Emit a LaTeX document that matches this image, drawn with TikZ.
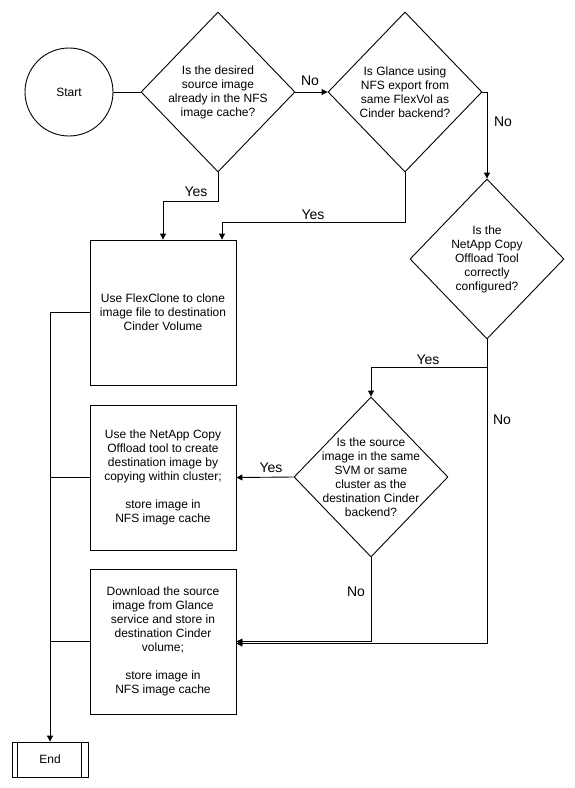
\documentclass[tikz,border=0pt]{standalone}
\usepackage{fontspec}
\setmainfont{Liberation Sans}
\usetikzlibrary{shapes.geometric,arrows.meta}
\tikzset{
  decision/.style={draw, diamond, minimum width=154pt, minimum height=160pt, inner sep=0pt},
  process/.style={draw, rectangle, minimum width=146pt, minimum height=145pt, align=center},
  ans/.style={font=\fontsize{14}{16}\selectfont},
  flow/.style={-{Triangle[length=6pt,width=6pt]}}
}
\begin{document}
\begin{tikzpicture}[x=1pt, y=-1pt, line width=0.9pt, font=\fontsize{12}{14}\selectfont]
\useasboundingbox (0,0) rectangle (575,788);
\node[draw, circle, minimum size=88pt, inner sep=0pt] (start) at (69,92) {Start};
\node[decision] (d1) at (218,92) {};
\node[align=center] (d1t) at (d1) {Is the desired\\source image\\already in the NFS\\image cache?};
\node[decision] (d2) at (405,92) {};
\node[align=center] (d2t) at (d2) {Is Glance using\\NFS export from\\same FlexVol as\\Cinder backend?};
\node[decision] (d3) at (487,259) {};
\node[align=center] (d3t) at (d3) {Is the\\NetApp Copy\\Offload Tool\\correctly\\configured?};
\node[decision] (d4) at (371,477) {};
\node[align=center] (d4t) at (d4) {Is the source\\image in the same\\SVM or same\\cluster as the\\destination Cinder\\backend?};
\node[process] (b1) at (163,312.5) {Use FlexClone to clone\\image file to destination\\Cinder Volume};
\node[process] (b2) at (163,477.5) {Use the NetApp Copy\\Offload tool to create\\destination image by\\copying within cluster;\\[14pt]store image in\\NFS image cache};
\node[process] (b3) at (163,641.5) {Download the source\\image from Glance\\service and store in\\destination Cinder\\volume;\\[14pt]store image in\\NFS image cache};
\node[draw, rectangle, minimum width=76pt, minimum height=35pt] (end) at (50,759.5) {End};
\draw ([xshift=6pt]end.north west) -- ([xshift=6pt]end.south west);
\draw ([xshift=-7pt]end.north east) -- ([xshift=-7pt]end.south east);
\draw (start) -- (d1.west);
\draw[flow] (d1.east) -- (d2.west);
\node[ans] (no1) at (310,81) {No};
\draw[flow] (d2.east) -| (d3.north);
\node[ans] (no2) at (503,122) {No};
\draw[flow] (d1.south) -- ++(0,29) -| (b1.north);
\node[ans] (yes1) at (196,192) {Yes};
\draw[flow] (d2.south) -- ++(0,50) -| ([xshift=59pt]b1.north);
\node[ans] (yes2) at (313,215) {Yes};
\draw[flow] (d3.south) -- ++(0,28) -| (d4.north);
\node[ans] (yes3) at (428,360) {Yes};
\draw[flow] (d3.south) |- ([yshift=-2pt]b3.east);
\node[ans] (no3) at (502,420) {No};
\draw[flow] (d4.west) -- (b2.east);
\node[ans] (yes4) at (271,468) {Yes};
\draw[flow] (d4.south) |- (b3.east);
\node[ans] (no4) at (356,592) {No};
\draw (b1.west) -- (b1.west -| end.north);
\draw (b2.west) -- (b2.west -| end.north);
\draw (b3.west) -- (b3.west -| end.north);
\draw[flow] (b1.west -| end.north) -- (end.north);
\end{tikzpicture}
\end{document}
